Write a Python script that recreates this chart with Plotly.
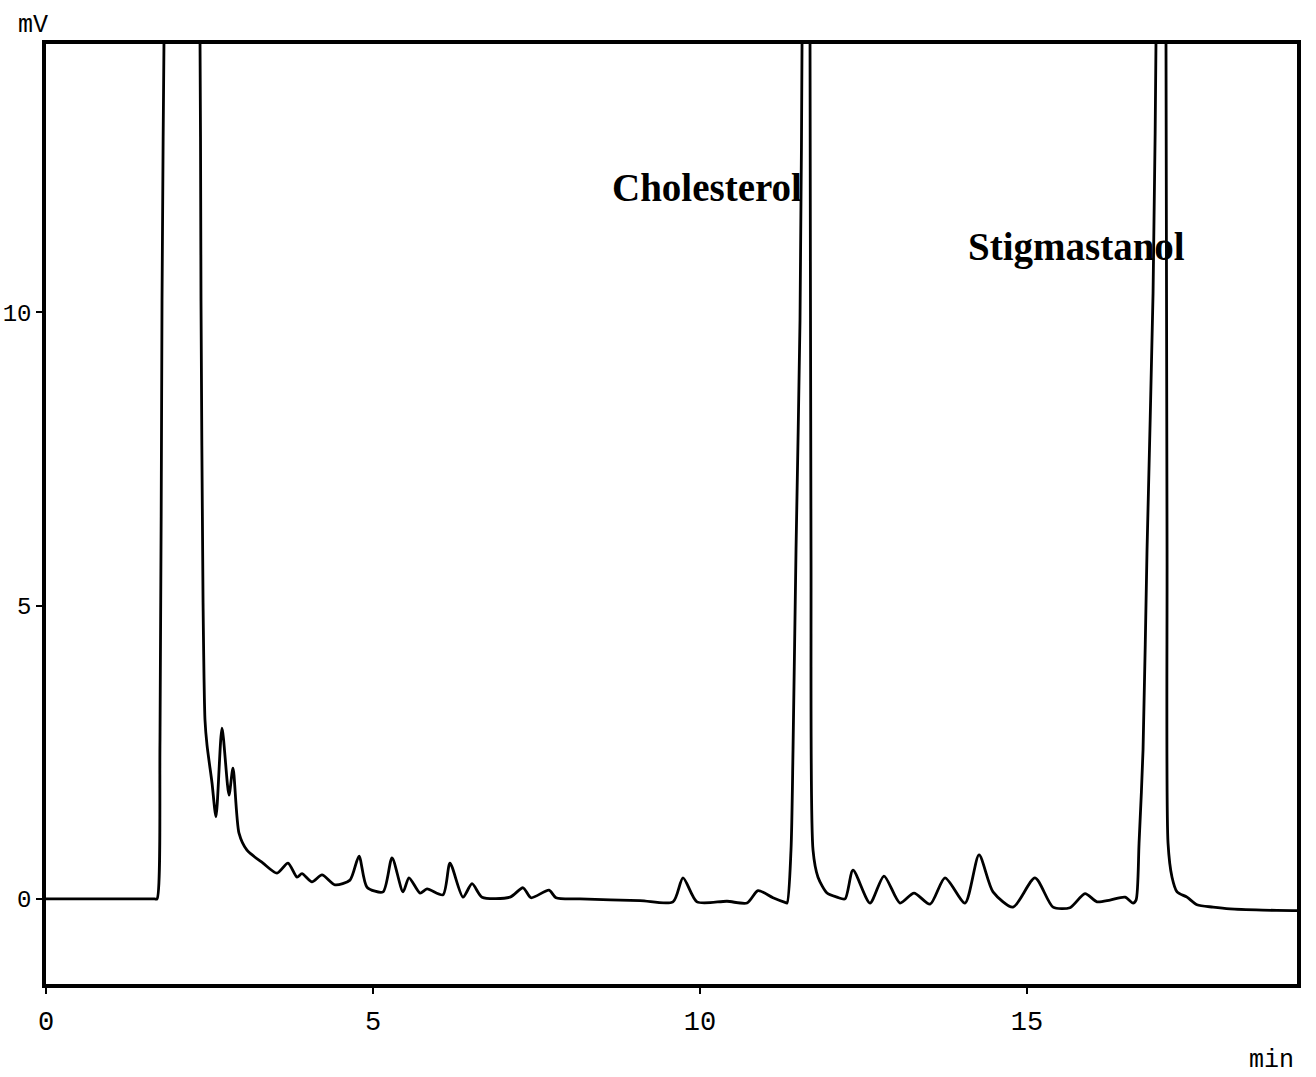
import plotly.graph_objects as go

# Retention time (min) and detector signal (mV)
time_min = [
    0.000, 1.000, 1.660, 1.697, 1.743, 1.774, 1.804, 2.080, 2.355, 2.370, 2.401, 2.431,
    2.462, 2.538, 2.599, 2.691, 2.798, 2.859, 2.951, 3.073, 3.318, 3.532,
    3.700, 3.838, 3.914, 4.067, 4.220, 4.419, 4.648, 4.786, 4.908, 5.153,
    5.291, 5.459, 5.550, 5.719, 5.826, 6.070, 6.177, 6.376, 6.514, 6.667,
    7.095, 7.294, 7.416, 7.691, 7.798, 8.165, 9.083, 9.587, 9.740, 9.954,
    10.413, 10.719, 10.887, 11.116, 11.300, 11.330, 11.391, 11.422, 11.468, 11.529, 11.560,
    11.621, 11.682, 11.697, 11.728, 11.804, 11.942, 12.095, 12.217, 12.339, 12.599,
    12.813, 13.058, 13.272, 13.517, 13.746, 14.052, 14.266, 14.480, 14.786, 15.122,
    15.398, 15.657, 15.887, 16.070, 16.269, 16.498, 16.621, 16.667, 16.713, 16.774,
    16.835, 16.927, 16.972, 17.064, 17.125, 17.141, 17.156, 17.217, 17.294, 17.446,
    17.599, 17.844, 18.104, 18.600, 19.067, 19.128,
]
signal_mv = [
    0.00, 0.00, 0.00, 0.00, 2.71, 10.20, 14.60, 40.00, 14.60, 10.20, 5.09, 3.05,
    2.62, 1.98, 1.40, 2.91, 1.77, 2.23, 1.12, 0.83, 0.61, 0.44,
    0.61, 0.37, 0.43, 0.29, 0.41, 0.24, 0.32, 0.73, 0.20, 0.12,
    0.70, 0.12, 0.36, 0.10, 0.17, 0.07, 0.61, 0.03, 0.26, 0.03,
    0.03, 0.19, 0.02, 0.15, 0.02, 0.00, -0.03, -0.05, 0.36, -0.05,
    -0.04, -0.07, 0.14, 0.02, -0.06, -0.07, 0.83, 2.54, 5.95, 9.86, 14.60,
    40.00, 14.60, 5.95, 0.83, 0.37, 0.10, 0.03, 0.00, 0.49, -0.07,
    0.39, -0.07, 0.10, -0.09, 0.36, -0.07, 0.75, 0.12, -0.14, 0.36,
    -0.14, -0.15, 0.09, -0.05, -0.02, 0.03, -0.07, -0.02, 0.95, 2.54,
    5.95, 10.32, 14.60, 40.00, 14.60, 5.95, 0.95, 0.37, 0.12, 0.03,
    -0.10, -0.14, -0.17, -0.19, -0.20, -0.20,
]

x_ticks = [0, 5, 10, 15]
y_ticks = [0, 5, 10]
peak_names = ["Cholesterol", "Stigmastanol"]
label_x = [8.62, 14.07]
label_y = [12.13, 11.11]

fig = go.Figure()
fig.add_trace(go.Scatter(
    x=time_min, y=signal_mv, mode="lines",
    line=dict(color="black", width=2.8, shape="spline", smoothing=0.7),
    hoverinfo="skip", showlegend=False,
))

for name, ax, ay in zip(peak_names, label_x, label_y):
    fig.add_annotation(
        x=ax, y=ay, xref="x", yref="y", text="<b>%s</b>" % name,
        showarrow=False, xanchor="left", yanchor="middle",
        font=dict(family="Liberation Serif", size=39, color="black"),
    )

fig.add_annotation(x=-0.0104, y=1.0202, xref="paper", yref="paper", text="mV",
                   showarrow=False, xanchor="center", yanchor="middle",
                   font=dict(family="Liberation Mono", size=25, color="black"))
fig.add_annotation(x=0.9995, y=-0.081, xref="paper", yref="paper", text="min",
                   showarrow=False, xanchor="right", yanchor="middle",
                   font=dict(family="Liberation Mono", size=25, color="black"))

fig.update_xaxes(range=[0, 19.128], tickvals=x_ticks, ticks="outside", ticklen=6,
                 tickwidth=2, tickcolor="black", showline=True, linecolor="black",
                 linewidth=3.5, mirror=True, showgrid=False, zeroline=False,
                 tickfont=dict(family="Liberation Mono", size=27, color="black"),
                 ticklabelstandoff=4, automargin=False)
fig.update_yaxes(range=[-1.45, 14.57], tickvals=y_ticks, ticks="outside", ticklen=6,
                 tickwidth=2, tickcolor="black", showline=True, linecolor="black",
                 linewidth=3.5, mirror=True, showgrid=False, zeroline=False,
                 tickfont=dict(family="Liberation Mono", size=24, color="black"),
                 ticklabelstandoff=0, automargin=False)
fig.update_layout(width=1316, height=1077, margin=dict(l=46, r=19, t=44, b=93),
                  plot_bgcolor="white", paper_bgcolor="white")

fig.write_html("out.html")
